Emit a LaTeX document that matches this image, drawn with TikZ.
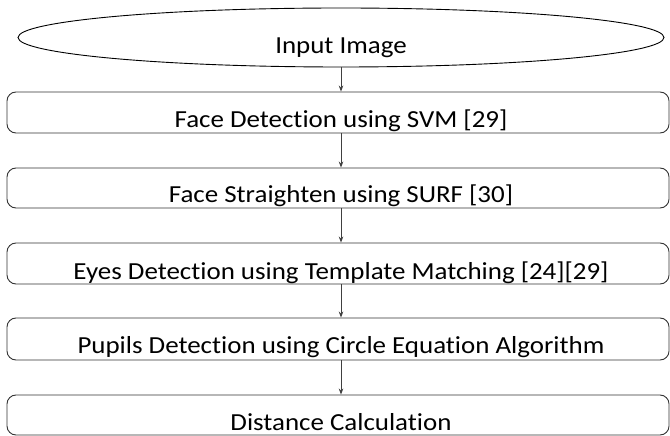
\documentclass[tikz,border=0pt]{standalone}
\usepackage{fontspec}
\usepackage{graphicx}
\setmainfont[Ligatures=NoCommon]{Carlito}
\usetikzlibrary{shapes.geometric,arrows.meta}
\newcommand{\wtxt}[1]{\scalebox{1.1}[1]{#1}}
\tikzset{
  stepbox/.style={draw=black!80, line width=0.9bp, rounded corners=9bp, minimum width=662bp, inner sep=0pt},
  startshape/.style={ellipse, draw=black, line width=0.9bp, minimum width=646bp, minimum height=59bp, inner sep=0pt},
  lbl/.style={anchor=base, inner sep=0pt, font=\fontsize{24.5bp}{28bp}\selectfont},
  arr/.style={draw=black!75, line width=0.8bp, -{Stealth[length=6bp,width=4.5bp]}}
}
\begin{document}
\begin{tikzpicture}[x=1bp,y=-1bp]
\useasboundingbox (0,0) rectangle (670,436);
\node[startshape] (e) at (341,37.5) {};
\node[stepbox, minimum height=41bp] (b1) at (338,112.5) {};
\node[stepbox, minimum height=40bp] (b2) at (338,188) {};
\node[stepbox, minimum height=41bp] (b3) at (338,263.5) {};
\node[stepbox, minimum height=42bp] (b4) at (338,339) {};
\node[stepbox, minimum height=40bp] (b5) at (338,415) {};
\node[lbl] (t0) at (341,53.5) {\wtxt{Input Image}};
\node[lbl] (t1) at (341,128) {\wtxt{Face Detection using SVM [29]}};
\node[lbl] (t2) at (341,202.5) {\wtxt{Face Straighten using SURF [30]}};
\node[lbl] (t3) at (341,280) {\wtxt{Eyes Detection using Template Matching [24][29]}};
\node[lbl] (t4) at (341,353) {\wtxt{Pupils Detection using Circle Equation Algorithm}};
\node[lbl] (t5) at (341,430.5) {\wtxt{Distance Calculation}};
\draw[arr] (e.south) -- (b1.north -| e.south);
\draw[arr] (b1.south -| e.south) -- (b2.north -| e.south);
\draw[arr] (b2.south -| e.south) -- (b3.north -| e.south);
\draw[arr] (b3.south -| e.south) -- (b4.north -| e.south);
\draw[arr] (b4.south -| e.south) -- (b5.north -| e.south);
\end{tikzpicture}
\end{document}
